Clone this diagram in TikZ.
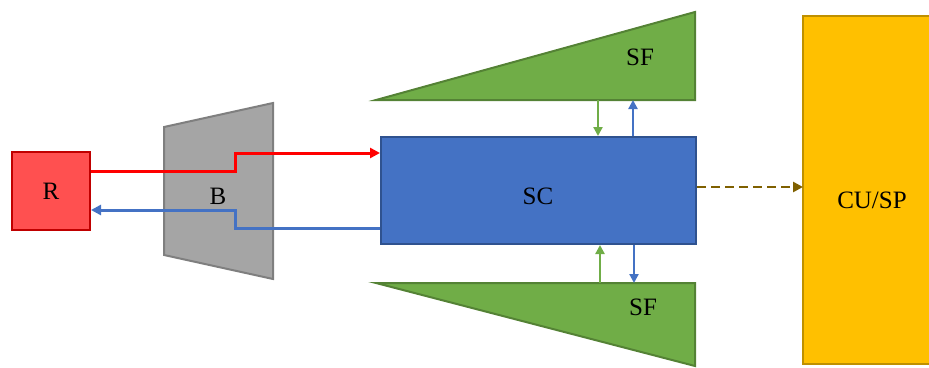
\documentclass[tikz,border=0pt]{standalone}
\usepackage{fontspec}
\setmainfont{Liberation Serif}
\usetikzlibrary{arrows.meta}
\definecolor{rfill}{HTML}{FF5050}
\definecolor{rdraw}{HTML}{C00000}
\definecolor{bfill}{HTML}{A5A5A5}
\definecolor{bdraw}{HTML}{7F7F7F}
\definecolor{scfill}{HTML}{4472C4}
\definecolor{scdraw}{HTML}{2F528F}
\definecolor{sffill}{HTML}{70AD47}
\definecolor{sfdraw}{HTML}{548235}
\definecolor{cufill}{HTML}{FFC000}
\definecolor{cudraw}{HTML}{BF9000}
\definecolor{dashc}{HTML}{7F6000}
\definecolor{redline}{HTML}{FF0000}
\tikzset{
  lbl/.style={font=\fontsize{25}{29}\selectfont, text=black},
  bigarrow/.style={line width=3pt, -{Triangle[length=10pt,width=10pt]}},
  smallarrow/.style={line width=2.2pt, -{Triangle[length=9pt,width=9pt]}},
}
\begin{document}
\begin{tikzpicture}[x=1pt,y=-1pt]
\useasboundingbox (0,0) rectangle (929,367);
\begin{scope}
\clip (0,0) rectangle (929,367);
% CU/SP
\draw[fill=cufill, draw=cudraw, line width=2.5pt] (803,16) rectangle (940,364);
\end{scope}
\node[lbl] (cusp) at (872,200) {CU/SP};
\coordinate (cuL) at (803,187);
% R
\node[draw=rdraw, fill=rfill, line width=2pt, minimum width=78pt, minimum height=78pt, inner sep=0pt, lbl] (R) at (51,191) {R};
% B trapezoid
\draw[fill=bfill, draw=bdraw, line width=2pt] (164,127) -- (273,103) -- (273,279) -- (164,255) -- cycle;
\node[lbl] (B) at (218,196) {B};
% SF top
\draw[fill=sffill, draw=sfdraw, line width=2pt] (376,100) -- (695,12) -- (695,100) -- cycle;
\node[lbl] (sf1) at (640,57) {SF};
% SF bottom
\draw[fill=sffill, draw=sfdraw, line width=2pt] (376,283) -- (695,283) -- (695,366) -- cycle;
\node[lbl] (sf2) at (643,307) {SF};
% SC
\node[draw=scdraw, fill=scfill, line width=2pt, minimum width=315pt, minimum height=107pt, inner sep=0pt, lbl] (SC) at (538.5,190.5) {};
\node[lbl] at (538,196) {SC};
% coordinates
\coordinate (t1) at (598,100);
\coordinate (t2) at (633,100);
\coordinate (b1) at (600,283);
\coordinate (b2) at (634,283);
% red arrow
\draw[bigarrow, draw=redline] (R.east |- 0,171) -- (235,171) -- (235,153) -- (SC.west |- 0,153);
% blue arrow
\draw[bigarrow, draw=scfill] (SC.west |- 0,228) -- (235,228) -- (235,210) -- (R.east |- 0,210);
% vertical arrows
\draw[smallarrow, draw=sffill] (t1) -- (t1 |- SC.north);
\draw[smallarrow, draw=scfill] (t2 |- SC.north) -- (t2);
\draw[smallarrow, draw=sffill] (b1) -- (b1 |- SC.south);
\draw[smallarrow, draw=scfill] (b2 |- SC.south) -- (b2);
% dashed
\draw[line width=2.5pt, draw=dashc, dash pattern=on 9pt off 5pt, -{Triangle[length=10pt,width=10pt]}] (SC.east |- cuL) -- (cuL);
\end{tikzpicture}
\end{document}
